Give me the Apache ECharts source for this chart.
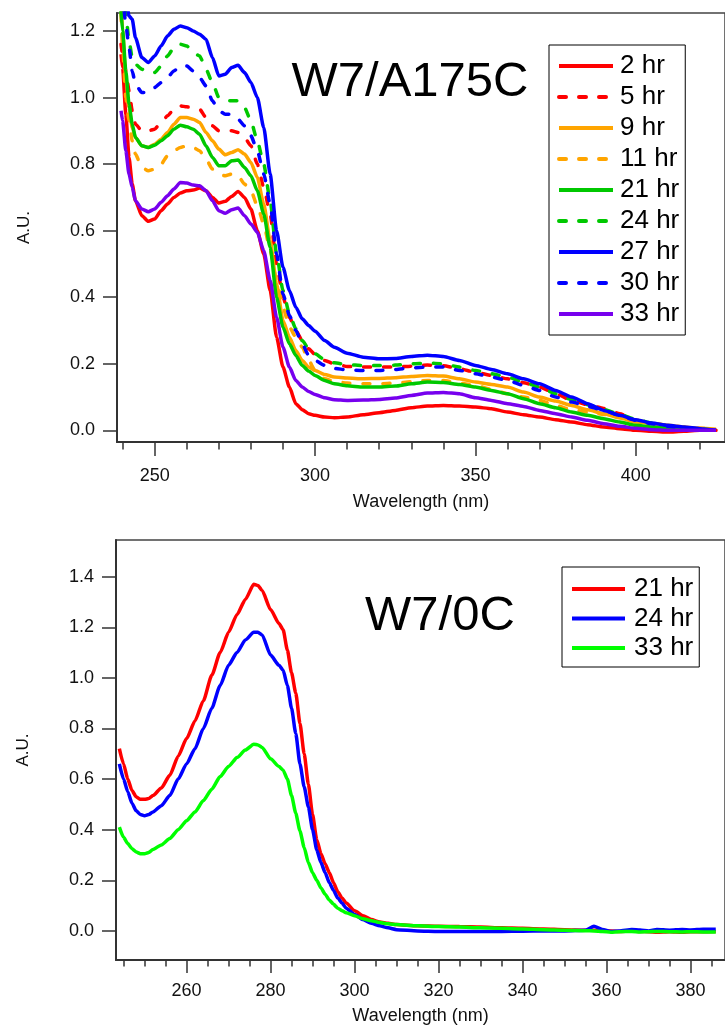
<!DOCTYPE html>
<html>
<head>
<meta charset="utf-8">
<script src="https://cdn.jsdelivr.net/npm/echarts@6.0.0/dist/echarts.min.js"></script>
<style>
html,body{margin:0;padding:0;background:#fff;}
#chart{width:725px;height:1027px;}
</style>
</head>
<body>
<div id="chart"></div>
<script>
// ---------- Top panel: W7/A175C ----------
const topTitle = 'W7/A175C';
const wlTop = [239.5,240,241,242,243,244,
  246,248,250,252,254,256,258,260,262,264,266,268,270,272,274,276,278,280,282,284,286,288,290,292,294,296,298,300,
  303,306,
  310,315,320,325,330,335,340,345,350,355,360,365,370,375,380,385,390,395,400,405,410,415,420,425];

const a2hr = [1.13,1.09,0.95,0.82,0.74,0.69,
  0.645,0.628,0.635,0.66,0.68,0.70,0.713,0.72,0.722,0.728,0.72,0.70,0.683,0.688,0.703,0.718,0.70,0.665,0.60,0.53,0.42,0.28,0.19,0.13,0.08,0.062,0.05,0.045,
  0.04,0.038,
  0.04,0.047,0.053,0.06,0.068,0.073,0.075,0.073,0.07,0.065,0.055,0.047,0.04,0.032,0.025,0.017,0.01,0.005,0.0,-0.003,-0.005,-0.003,0.0,0.0];
const a5hr = [1.16,1.13,1.08,1.02,0.96,0.92,
  0.9,0.9,0.905,0.925,0.945,0.965,0.975,0.972,0.97,0.965,0.94,0.915,0.9,0.9,0.9,0.895,0.88,0.855,0.80,0.73,0.65,0.5,0.4,0.34,0.3,0.27,0.245,0.228,
  0.21,0.2,
  0.192,0.19,0.19,0.19,0.193,0.196,0.194,0.185,0.175,0.165,0.155,0.143,0.13,0.11,0.09,0.077,0.066,0.05,0.03,0.02,0.01,0.005,0.003,0.0];
const a9hr = [1.3,1.2,1.06,0.97,0.91,0.88,
  0.855,0.85,0.86,0.875,0.895,0.92,0.94,0.94,0.935,0.925,0.895,0.87,0.845,0.828,0.835,0.843,0.83,0.805,0.76,0.68,0.57,0.44,0.33,0.28,0.24,0.21,0.19,0.18,
  0.168,0.16,
  0.157,0.155,0.156,0.158,0.162,0.165,0.163,0.155,0.145,0.138,0.13,0.115,0.10,0.088,0.075,0.062,0.05,0.037,0.025,0.02,0.015,0.01,0.006,0.003];
const a11hr = [1.25,1.15,1.0,0.93,0.87,0.83,
  0.79,0.78,0.785,0.80,0.825,0.84,0.85,0.855,0.85,0.84,0.815,0.785,0.77,0.765,0.77,0.765,0.74,0.72,0.675,0.62,0.54,0.45,0.37,0.31,0.28,0.25,0.21,0.18,
  0.155,0.147,
  0.142,0.14,0.14,0.142,0.146,0.15,0.15,0.142,0.135,0.123,0.11,0.1,0.09,0.075,0.062,0.055,0.048,0.04,0.03,0.022,0.015,0.01,0.006,0.004];
const a21hr = [1.26,1.2,1.08,0.98,0.92,0.88,
  0.855,0.85,0.857,0.87,0.885,0.905,0.917,0.912,0.905,0.89,0.855,0.82,0.795,0.795,0.81,0.812,0.79,0.765,0.72,0.65,0.55,0.40,0.31,0.26,0.225,0.195,0.178,0.165,
  0.15,0.14,
  0.134,0.13,0.13,0.133,0.14,0.145,0.144,0.138,0.13,0.12,0.11,0.095,0.08,0.068,0.055,0.045,0.035,0.025,0.015,0.01,0.006,0.004,0.002,0.0];
const a24hr = [1.45,1.35,1.25,1.17,1.12,1.1,
  1.085,1.075,1.075,1.095,1.125,1.15,1.16,1.155,1.135,1.125,1.085,1.045,1.0,0.99,0.99,0.99,0.97,0.93,0.87,0.8,0.69,0.53,0.42,0.35,0.305,0.27,0.245,0.23,
  0.212,0.203,
  0.197,0.195,0.195,0.196,0.2,0.202,0.2,0.19,0.18,0.17,0.16,0.145,0.13,0.11,0.092,0.077,0.063,0.048,0.033,0.022,0.013,0.007,0.004,0.0];
const a27hr = [1.5,1.4,1.3,1.245,1.235,1.18,
  1.12,1.105,1.125,1.155,1.185,1.205,1.215,1.21,1.2,1.19,1.175,1.12,1.065,1.07,1.09,1.097,1.075,1.045,1.0,0.91,0.77,0.6,0.49,0.42,0.37,0.335,0.315,0.298,
  0.27,0.25,
  0.232,0.22,0.215,0.216,0.222,0.226,0.222,0.21,0.195,0.183,0.17,0.155,0.14,0.12,0.1,0.08,0.06,0.045,0.032,0.022,0.015,0.01,0.005,0.0];
const a30hr = [1.38,1.3,1.22,1.15,1.08,1.04,
  1.015,1.015,1.03,1.045,1.06,1.08,1.095,1.095,1.08,1.06,1.035,0.99,0.96,0.95,0.95,0.935,0.915,0.885,0.84,0.77,0.68,0.53,0.41,0.345,0.3,0.26,0.225,0.21,
  0.195,0.186,
  0.182,0.18,0.18,0.183,0.188,0.19,0.19,0.18,0.17,0.16,0.15,0.135,0.12,0.1,0.085,0.072,0.06,0.045,0.03,0.02,0.012,0.006,0.003,0.0];
const a33hr = [0.96,0.93,0.84,0.77,0.73,0.69,
  0.665,0.657,0.665,0.685,0.705,0.725,0.745,0.743,0.737,0.735,0.72,0.69,0.66,0.652,0.663,0.668,0.645,0.62,0.595,0.54,0.45,0.34,0.25,0.19,0.15,0.13,0.117,0.108,
  0.098,0.092,
  0.09,0.091,0.093,0.097,0.105,0.112,0.114,0.11,0.098,0.09,0.08,0.072,0.06,0.05,0.04,0.03,0.02,0.012,0.006,0.002,0.0,0.0,0.0,0.0];

const topNames = ['2 hr','5 hr','9 hr','11 hr','21 hr','24 hr','27 hr','30 hr','33 hr'];
const topValues = [a2hr,a5hr,a9hr,a11hr,a21hr,a24hr,a27hr,a30hr,a33hr];
const topColors = ['#ff0000','#ff0000','#ffa500','#ffa500','#00c800','#00c800','#0000ff','#0000ff','#7700ee'];
const topDashed = [false,true,false,true,false,true,false,true,false];

const topXLabels = [250,300,350,400];
const topXMinor = [240,260,270,280,290,310,320,330,340,360,370,380,390,410,420];
const topYLabels = [0.0,0.2,0.4,0.6,0.8,1.0,1.2];

// ---------- Bottom panel: W7/0C ----------
const botTitle = 'W7/0C';
const wlBot = [244,245,246,247,248,249,250,251,252,
  254,256,258,260,262,264,266,268,270,272,274,276,
  277,278,280,282,
  283,284,285,286,287,288,289,290,291,292,293,294,295,296,297,298,
  300,302,304,306,308,310,
  315,320,325,330,335,340,345,350,355,
  357,359,361,363,366,368,370,372,375,378,380,383,386];
const b21hr = [0.72,0.66,0.60,0.555,0.53,0.52,0.52,0.523,0.535,
  0.565,0.615,0.69,0.76,0.83,0.91,1.01,1.10,1.18,1.25,1.31,1.37,
  1.365,1.345,1.27,1.215,
  1.19,1.11,1.02,0.94,0.82,0.70,0.58,0.46,0.36,0.305,0.265,0.23,0.19,0.155,0.13,0.11,
  0.08,0.06,0.045,0.035,0.03,0.025,
  0.02,0.018,0.017,0.015,0.012,0.01,0.008,0.005,0.003,
  0.003,0.002,0.0,-0.002,0.0,-0.002,-0.003,-0.005,-0.003,-0.005,-0.003,-0.003,-0.002];
const b24hr = [0.66,0.6,0.55,0.505,0.475,0.46,0.455,0.46,0.47,
  0.495,0.535,0.60,0.66,0.72,0.80,0.88,0.97,1.05,1.10,1.15,1.18,
  1.18,1.17,1.09,1.05,
  1.03,0.97,0.88,0.78,0.66,0.57,0.49,0.4,0.32,0.27,0.23,0.19,0.16,0.13,0.11,0.09,
  0.065,0.045,0.03,0.02,0.012,0.005,
  0.0,-0.002,-0.002,-0.002,-0.002,-0.001,0.0,0.0,0.003,
  0.018,0.006,-0.002,0.0,0.006,0.004,0.0,0.006,0.003,0.006,0.004,0.007,0.007];
const b33hr = [0.41,0.37,0.345,0.325,0.312,0.305,0.305,0.31,0.322,
  0.34,0.365,0.40,0.435,0.47,0.515,0.56,0.61,0.65,0.685,0.715,0.738,
  0.735,0.725,0.68,0.65,
  0.635,0.6,0.535,0.465,0.395,0.33,0.27,0.23,0.2,0.17,0.145,0.122,0.105,0.09,0.08,0.072,
  0.06,0.048,0.04,0.033,0.028,0.025,
  0.02,0.017,0.015,0.012,0.01,0.008,0.005,0.003,0.001,
  0.0,-0.002,-0.005,-0.003,-0.002,-0.004,-0.003,-0.002,-0.003,-0.004,-0.003,-0.004,-0.004];

const botNames = ['21 hr','24 hr','33 hr'];
const botValues = [b21hr,b24hr,b33hr];
const botColors = ['#ff0000','#0000ff','#00ff00'];

const botXLabels = [260,280,300,320,340,360,380];
const botXMinor = [245,250,255,265,270,275,285,290,295,305,310,315,325,330,335,345,350,355,365,370,375,385];
const botYLabels = [0.0,0.2,0.4,0.6,0.8,1.0,1.2,1.4];

// ---------- build ----------
const FONT = '"Liberation Sans", Arial, sans-serif';
const AX = '#333';
const TXT = '#111';
const BPREFIX = 'B ';

function pairs(xs, ys){ return xs.map((x,i)=>[x, ys[i]]); }

const series = [];
topNames.forEach((n,i)=>{
  series.push({
    type:'line', name:n, xAxisIndex:0, yAxisIndex:0,
    data: pairs(wlTop, topValues[i]),
    showSymbol:false, symbol:'none', smooth:0.2, smoothMonotone:'x',
    lineStyle:{color:topColors[i], width:3.5, type: topDashed[i] ? [7,13] : 'solid', cap: topDashed[i] ? 'round' : 'butt'},
    itemStyle:{color:topColors[i]},
    emphasis:{disabled:true}, silent:true
  });
});
botNames.forEach((n,i)=>{
  series.push({
    type:'line', name:BPREFIX+n, xAxisIndex:2, yAxisIndex:1,
    data: pairs(wlBot, botValues[i]),
    showSymbol:false, symbol:'none', smooth:0.2, smoothMonotone:'x',
    lineStyle:{color:botColors[i], width:3.5},
    itemStyle:{color:botColors[i]},
    emphasis:{disabled:true}, silent:true
  });
});

function xMajor(grid, min, max, labels, len, margin, gap){
  return {
    type:'value', gridIndex:grid, position:'bottom', min:min, max:max,
    axisLine:{show:true, onZero:false, lineStyle:{color:AX, width:2}},
    axisTick:{show:true, length:len, customValues:labels, lineStyle:{color:AX, width:1.5}},
    axisLabel:{show:true, customValues:labels, margin:margin, fontSize:18, fontFamily:FONT, color:TXT},
    splitLine:{show:false},
    name:'Wavelength (nm)', nameLocation:'middle', nameGap:gap,
    nameTextStyle:{fontSize:18, fontFamily:FONT, color:TXT}
  };
}
function xMinor(grid, min, max, ticks, len){
  return {
    type:'value', gridIndex:grid, position:'bottom', offset:0, min:min, max:max,
    axisLine:{show:false, onZero:false},
    axisTick:{show:true, length:len, customValues:ticks, lineStyle:{color:AX, width:1.5}},
    axisLabel:{show:false},
    splitLine:{show:false}
  };
}
function yAxis(grid, min, max, labels){
  return {
    type:'value', gridIndex:grid, position:'left', min:min, max:max,
    axisLine:{show:true, onZero:false, lineStyle:{color:AX, width:2}},
    axisTick:{show:true, length:14, customValues:labels, lineStyle:{color:AX, width:1.5}},
    axisLabel:{show:true, customValues:labels, margin:22, fontSize:18, fontFamily:FONT, color:TXT,
      formatter:(v)=>Number(v).toFixed(1)},
    splitLine:{show:false},
    name:'A.U.', nameLocation:'middle', nameGap:84, nameRotate:90,
    nameTextStyle:{fontSize:17, fontFamily:FONT, color:TXT}
  };
}

const legendCommon = {
  orient:'vertical', itemHeight:14, borderColor:'#000', borderWidth:1, backgroundColor:'#fff',
  selectedMode:false,
  itemStyle:{opacity:0, borderWidth:0},
  lineStyle:{width:4}
};

const option = {
  animation:false,
  backgroundColor:'#ffffff',
  grid:[
    {left:117, right:-10, top:13, bottom:585, show:true, borderColor:'#444', borderWidth:1.5, backgroundColor:'transparent'},
    {left:116, right:-10, top:540, bottom:67, show:true, borderColor:'#444', borderWidth:1.5, backgroundColor:'transparent'}
  ],
  xAxis:[
    xMajor(0, 238.25, 427.8, topXLabels, 14, 25, 51),
    xMinor(0, 238.25, 427.8, topXMinor, 7.5),
    xMajor(1, 243.2, 388.2, botXLabels, 13, 22, 47),
    xMinor(1, 243.2, 388.2, botXMinor, 6.5)
  ],
  yAxis:[
    yAxis(0, -0.035, 1.254, topYLabels),
    yAxis(1, -0.115, 1.545, botYLabels)
  ],
  legend:[
    Object.assign({}, legendCommon, {
      data: topNames, left:549, top:45,
      itemWidth:54, itemGap:5,
      padding:[8,6,8,8],
      textStyle:{fontSize:26, lineHeight:26, fontFamily:FONT, color:'#000', padding:[0,0,0,2]}
    }),
    Object.assign({}, legendCommon, {
      data: botNames.map(n=>BPREFIX+n), left:562, top:567,
      itemWidth:53, itemGap:3.5,
      padding:[9,6,6,8],
      formatter:(name)=>name.slice(BPREFIX.length),
      textStyle:{fontSize:26, lineHeight:26, fontFamily:FONT, color:'#000', padding:[0,0,0,4]}
    })
  ],
  graphic:[
    {type:'text', x:410, y:82, silent:true,
      style:{text:topTitle, fontSize:49, fontFamily:FONT, fill:'#000', align:'center', verticalAlign:'middle'}},
    {type:'text', x:440, y:616, silent:true,
      style:{text:botTitle, fontSize:49, fontFamily:FONT, fill:'#000', align:'center', verticalAlign:'middle'}}
  ],
  series: series
};

const chart = echarts.init(document.getElementById('chart'), null, {renderer:'canvas', width:725, height:1027});
chart.setOption(option);
</script>
</body>
</html>
